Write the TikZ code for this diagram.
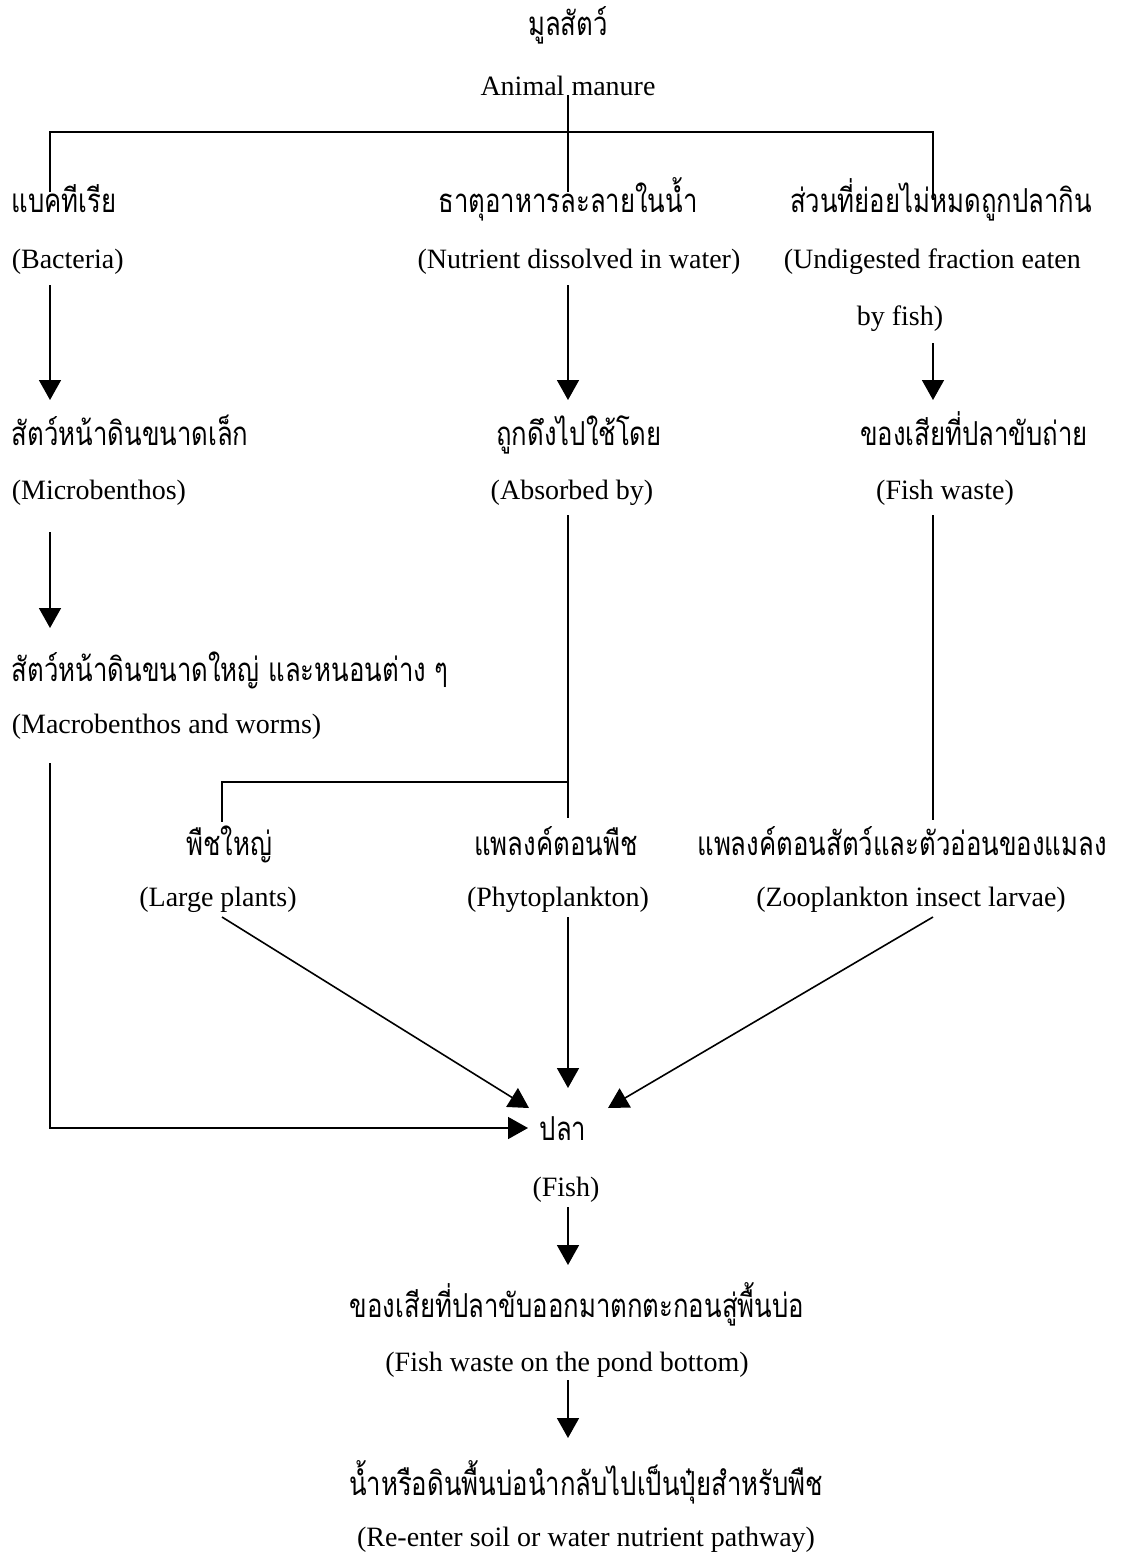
\documentclass[tikz,border=0pt]{standalone}
\usepackage{fontspec}
\setmainfont{Liberation Serif}
\newfontfamily\thaifont[Script=Thai,FakeStretch=0.78]{Loma}
\usetikzlibrary{arrows.meta}
\tikzset{
  th/.style={inner sep=0pt,anchor=base,font=\thaifont\fontsize{16.5}{18}\selectfont},
  en/.style={inner sep=0pt,anchor=base,font=\fontsize{14}{16}\selectfont},
  arr/.style={-{Triangle[length=10pt,width=11pt]}},
}
\begin{document}
\begin{tikzpicture}[x=0.5pt,y=-0.5pt,line width=0.8pt]
\useasboundingbox (0,0) rectangle (1130,1555);
% labels
\node[th] (manureTh) at (568,35) {มูลสัตว์};
\node[en] (manureEn) at (568,95) {Animal manure};
\node[th,anchor=base west] (bactTh) at (11,212) {แบคทีเรีย};
\node[en,anchor=base west] (bactEn) at (11,268) {(Bacteria)};
\node[th] (nutTh) at (568,212) {ธาตุอาหารละลายในน้ำ};
\node[en] (nutEn) at (579,268) {(Nutrient dissolved in water)};
\node[th] (undTh) at (941,212) {ส่วนที่ย่อยไม่หมดถูกปลากิน};
\node[en,anchor=base west] (undEn) at (783,268) {(Undigested fraction eaten};
\node[en] (undEnB) at (900,325) {by fish)};
\node[th,anchor=base west] (microTh) at (11,445) {สัตว์หน้าดินขนาดเล็ก};
\node[en,anchor=base west] (microEn) at (11,499) {(Microbenthos)};
\node[th] (absTh) at (579,445) {ถูกดึงไปใช้โดย};
\node[en] (absEn) at (572,499) {(Absorbed by)};
\node[th] (wasteTh) at (974,445) {ของเสียที่ปลาขับถ่าย};
\node[en] (wasteEn) at (945,499) {(Fish waste)};
\node[th,anchor=base west] (macroTh) at (11,681) {สัตว์หน้าดินขนาดใหญ่ และหนอนต่าง ๆ};
\node[en,anchor=base west] (macroEn) at (11,733) {(Macrobenthos and worms)};
\node[th] (largeTh) at (229,855) {พืชใหญ่};
\node[en] (largeEn) at (218,906) {(Large plants)};
\node[th] (phyTh) at (556,855) {แพลงค์ตอนพืช};
\node[en] (phyEn) at (558,906) {(Phytoplankton)};
\node[th] (zooTh) at (902,855) {แพลงค์ตอนสัตว์และตัวอ่อนของแมลง};
\node[en] (zooEn) at (911,906) {(Zooplankton insect larvae)};
\node[th] (fishTh) at (563,1140) {ปลา};
\node[en] (fishEn) at (566,1196) {(Fish)};
\node[th] (pondTh) at (577,1317) {ของเสียที่ปลาขับออกมาตกตะกอนสู่พื้นบ่อ};
\node[en] (pondEn) at (567,1371) {(Fish waste on the pond bottom)};
\node[th] (soilTh) at (586,1495) {น้ำหรือดินพื้นบ่อนำกลับไปเป็นปุ๋ยสำหรับพืช};
\node[en] (soilEn) at (586,1546) {(Re-enter soil or water nutrient pathway)};
% line ends
\coordinate (mTop) at (568,95);
\coordinate (jL) at (50,132);
\coordinate (jR) at (933,132);
\coordinate (bactIn) at (50,192);
\coordinate (nutIn) at (568,192);
\coordinate (undIn) at (933,200);
\coordinate (bactOut) at (50,285);
\coordinate (microIn) at (50,400);
\coordinate (nutOut) at (568,285);
\coordinate (absIn) at (568,400);
\coordinate (undOut) at (933,343);
\coordinate (wasteIn) at (933,400);
\coordinate (microOut) at (50,532);
\coordinate (macroIn) at (50,628);
\coordinate (absOut) at (568,515);
\coordinate (phyIn) at (568,818);
\coordinate (wasteOut) at (933,515);
\coordinate (zooIn) at (933,820);
\coordinate (jP) at (568,782);
\coordinate (jPL) at (222,782);
\coordinate (largeIn) at (222,822);
\coordinate (macroOut) at (50,763);
\coordinate (jF) at (50,1128);
\coordinate (fishW) at (528,1128);
\coordinate (largeOut) at (222,917);
\coordinate (fishNW) at (529,1108);
\coordinate (phyOut) at (568,917);
\coordinate (fishN) at (568,1088);
\coordinate (zooOut) at (933,917);
\coordinate (fishNE) at (608,1108);
\coordinate (fishOut) at (568,1207);
\coordinate (pondIn) at (568,1265);
\coordinate (pondOut) at (568,1380);
\coordinate (soilIn) at (568,1438);
% connectors
\draw (mTop) -- (nutIn);
\draw (bactIn) -- (jL) -- (jR) -- (undIn);
\draw[arr] (bactOut) -- (microIn);
\draw[arr] (nutOut) -- (absIn);
\draw[arr] (undOut) -- (wasteIn);
\draw[arr] (microOut) -- (macroIn);
\draw (absOut) -- (phyIn);
\draw (jP) -- (jPL) -- (largeIn);
\draw (wasteOut) -- (zooIn);
\draw[arr] (macroOut) -- (jF) -- (fishW);
\draw[arr] (largeOut) -- (fishNW);
\draw[arr] (phyOut) -- (fishN);
\draw[arr] (zooOut) -- (fishNE);
\draw[arr] (fishOut) -- (pondIn);
\draw[arr] (pondOut) -- (soilIn);
\end{tikzpicture}
\end{document}
